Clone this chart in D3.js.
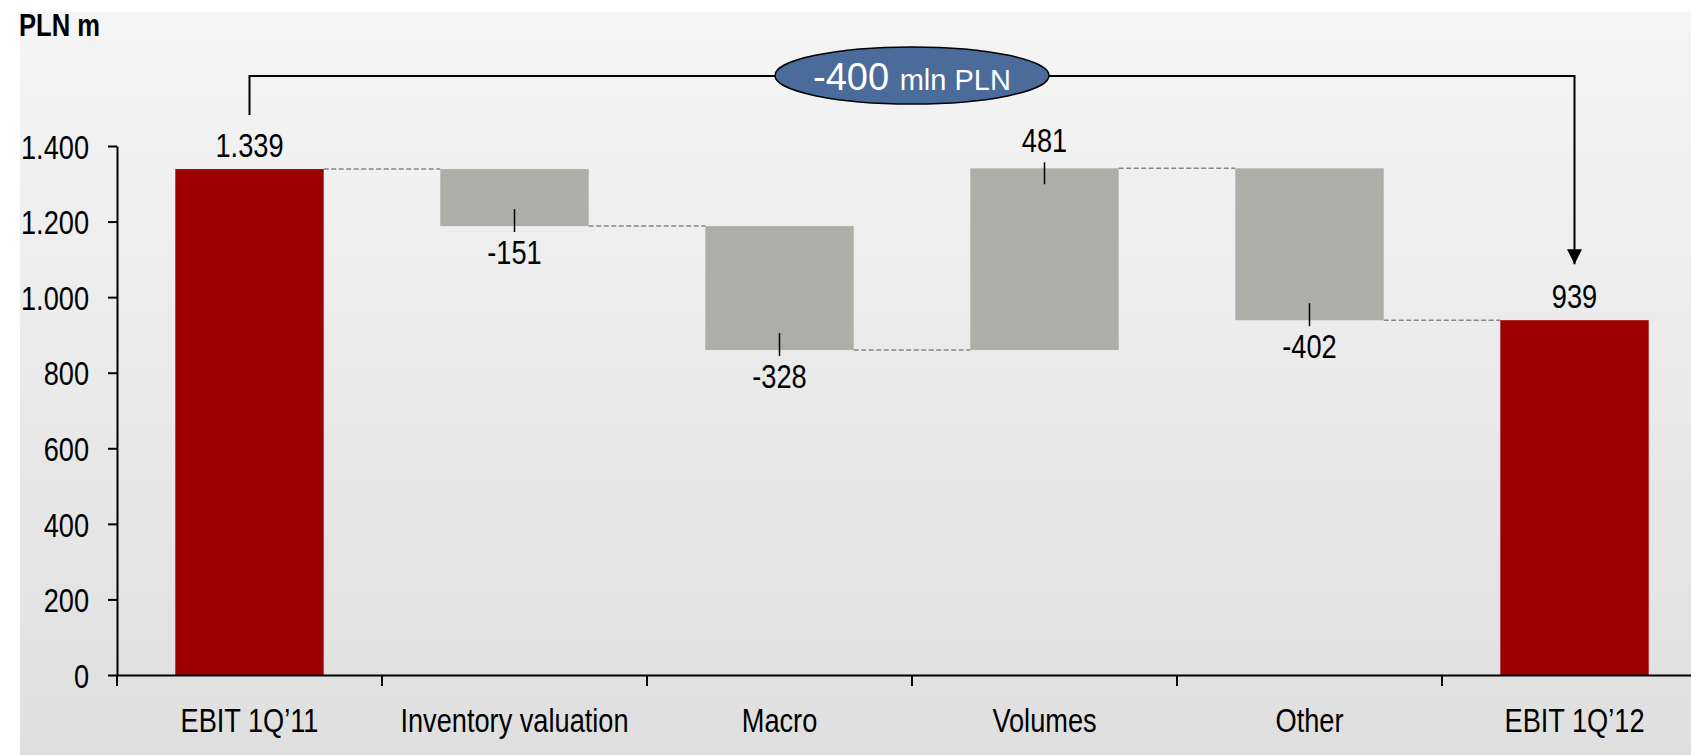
<!DOCTYPE html>
<html>
<head>
<meta charset="utf-8">
<script src="https://cdn.jsdelivr.net/npm/d3@7"></script>
<style>
  html, body { margin: 0; padding: 0; background: #ffffff; }
  svg { display: block; }
  text { font-family: "Liberation Sans", Arial, sans-serif; }
</style>
</head>
<body>
<svg id="chart" width="1691" height="755"></svg>
<script>
// ---- data ----
const categories = ["EBIT 1Q\u201911", "Inventory valuation", "Macro", "Volumes", "Other", "EBIT 1Q\u201912"];
const values = [1339, -151, -328, 481, -402, 939];
const kinds = ["total", "delta", "delta", "delta", "delta", "total"];
const yTicks = [0, 200, 400, 600, 800, 1000, 1200, 1400];
const unitLabel = "PLN m";
const changeValue = "-400";
const changeUnit = "mln PLN";

// ---- setup ----
const W = 1691, H = 755;
const NARROW = 0.8; // emulate a condensed face
const FS = 34;
const svg = d3.select("#chart");
const loc = d3.formatLocale({ decimal: ",", thousands: ".", grouping: [3], currency: ["", ""], minus: "-" });
const fmt = loc.format(",");
const fmtDelta = loc.format("d");

const x = d3.scaleBand().domain(categories).range([117, 1707]).paddingInner(0.44).paddingOuter(0.22);
const y = d3.scaleLinear().domain([0, 1400]).range([675, 146]);

// background panel with gradient
const defs = svg.append("defs");
const grad = defs.append("linearGradient").attr("id", "bg").attr("x1", 0).attr("y1", 0).attr("x2", 0).attr("y2", 1);
grad.append("stop").attr("offset", "0%").attr("stop-color", "#f5f5f5");
grad.append("stop").attr("offset", "100%").attr("stop-color", "#dfdfdf");
svg.append("rect").attr("x", 20).attr("y", 12).attr("width", W - 20).attr("height", H - 12).attr("fill", "url(#bg)");

// compute waterfall
let running = 0;
const bars = categories.map((c, i) => {
  let start, end;
  if (kinds[i] === "total") { start = 0; end = values[i]; running = values[i]; }
  else { start = running; end = running + values[i]; running = end; }
  return { cat: c, value: values[i], kind: kinds[i], start, end, level: running };
});

// connectors
const step = x.step();
svg.append("g").selectAll("line").data(bars.slice(0, -1)).join("line")
  .attr("x1", d => x(d.cat) + x.bandwidth())
  .attr("x2", (d, i) => x(categories[i + 1]))
  .attr("y1", d => y(d.level)).attr("y2", d => y(d.level))
  .attr("stroke", "#858585").attr("stroke-width", 1.5).attr("stroke-dasharray", "5,2.5");

// bars
svg.append("g").selectAll("rect").data(bars).join("rect")
  .attr("x", d => x(d.cat))
  .attr("width", x.bandwidth())
  .attr("y", d => y(Math.max(d.start, d.end)))
  .attr("height", d => Math.abs(y(d.start) - y(d.end)))
  .attr("fill", d => d.kind === "total" ? "#9c0000" : "#aeaea9");

// helper: place condensed text
function narrowText(g, tx, ty, str, size, anchor, weight) {
  return g.append("text")
    .attr("transform", `translate(${tx},${ty}) scale(${NARROW},1)`)
    .attr("text-anchor", anchor || "middle")
    .attr("font-size", size)
    .attr("font-weight", weight || "normal")
    .attr("fill", "#000")
    .text(str);
}

// value labels + leader lines
const lab = svg.append("g");
bars.forEach(d => {
  const cx = x(d.cat) + x.bandwidth() / 2;
  const top = y(Math.max(d.start, d.end));
  const bot = y(Math.min(d.start, d.end));
  if (d.kind === "total") {
    narrowText(lab, cx, top - 12, fmt(d.value), FS);
  } else if (d.value >= 0) {
    lab.append("line").attr("x1", cx).attr("x2", cx).attr("y1", top - 6).attr("y2", top + 16).attr("stroke", "#000").attr("stroke-width", 1.5);
    narrowText(lab, cx, top - 16, fmtDelta(d.value), FS);
  } else {
    lab.append("line").attr("x1", cx).attr("x2", cx).attr("y1", bot - 17).attr("y2", bot + 6).attr("stroke", "#000").attr("stroke-width", 1.5);
    narrowText(lab, cx, bot + 38, fmtDelta(d.value), FS);
  }
});

// y axis
const yAxis = svg.append("g").attr("transform", "translate(117,0)")
  .call(d3.axisLeft(y).tickValues(yTicks).tickFormat(fmt).tickSize(9).tickSizeOuter(0).tickPadding(19));
yAxis.select(".domain").attr("stroke", "#000").attr("stroke-width", 2);
yAxis.selectAll(".tick line").attr("stroke", "#000").attr("stroke-width", 2);
yAxis.selectAll(".tick text")
  .attr("font-size", FS).attr("fill", "#000")
  .attr("x", -28 / NARROW).attr("dy", "0.36em")
  .attr("transform", `scale(${NARROW},1)`);

// x axis
const xAxis = svg.append("g").attr("transform", "translate(0,675)")
  .call(d3.axisBottom(x).tickSize(0).tickSizeOuter(0).tickPadding(0));
xAxis.select(".domain").attr("stroke", "#000").attr("stroke-width", 2);
xAxis.selectAll(".tick text")
  .attr("font-size", FS).attr("fill", "#000").attr("y", 57).attr("dy", 0)
  .attr("transform", `scale(${NARROW},1)`);
// category boundary ticks
xAxis.append("g").selectAll("line").data(categories.slice(1)).join("line")
  .attr("x1", d => x(d) - step * x.paddingInner() / 2)
  .attr("x2", d => x(d) - step * x.paddingInner() / 2)
  .attr("y1", 0).attr("y2", 11)
  .attr("stroke", "#000").attr("stroke-width", 2);
xAxis.append("line").attr("x1", 117).attr("x2", 117).attr("y1", 0).attr("y2", 11).attr("stroke", "#000").attr("stroke-width", 2);

// unit label
narrowText(svg, 19, 36, unitLabel, 32, "start", "bold");

// bracket with arrow
const first = bars[0], last = bars[bars.length - 1];
const xa = x(first.cat) + x.bandwidth() / 2;
const xb = x(last.cat) + x.bandwidth() / 2;
const yBr = 76;
defs.append("marker").attr("id", "arrow").attr("viewBox", "0 0 10 10").attr("refX", 10).attr("refY", 5)
  .attr("markerWidth", 15).attr("markerHeight", 15).attr("markerUnits", "userSpaceOnUse").attr("orient", "auto")
  .append("path").attr("d", "M0,0 L10,5 L0,10 Z").attr("fill", "#000");
svg.append("path")
  .attr("d", `M${xa},${y(first.end) - 54} V${yBr} H${xb} V${y(last.end) - 56}`)
  .attr("fill", "none").attr("stroke", "#000").attr("stroke-width", 2)
  .attr("marker-end", "url(#arrow)");

// ellipse label
const ex = (xa + xb) / 2;
svg.append("ellipse").attr("cx", ex).attr("cy", 75.5).attr("rx", 137).attr("ry", 28.5)
  .attr("fill", "#4b6b9b").attr("stroke", "#000").attr("stroke-width", 1.5);
const et = svg.append("text").attr("x", ex).attr("y", 90).attr("text-anchor", "middle").attr("fill", "#fff");
et.append("tspan").attr("font-size", 38).text(changeValue + " ");
et.append("tspan").attr("font-size", 29).text(changeUnit);
</script>
</body>
</html>
